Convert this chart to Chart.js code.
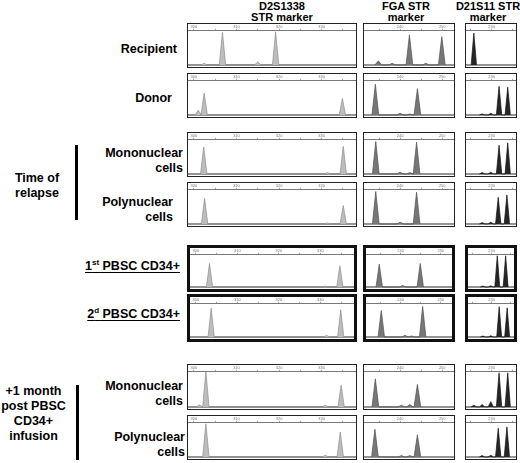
<!DOCTYPE html>
<html>
<head>
<meta charset="utf-8">
<script src="https://cdn.jsdelivr.net/npm/chart.js@4.4.1/dist/chart.umd.min.js"></script>
<style>
  body { margin: 0; background: #fff; }
  #fig { position: relative; width: 520px; height: 463px; overflow: hidden;
         font-family: "Liberation Sans", Arial, Helvetica, sans-serif; font-weight: bold; color: #000; }
  .t { position: absolute; white-space: nowrap; font-size: 12.5px; line-height: 15px; }
  .r { text-align: right; }
  .c { text-align: center; }
  .h { position: absolute; white-space: nowrap; font-size: 11px; line-height: 11px; text-align: center; }
  .bar { position: absolute; width: 2.5px; background: #000; }
  .panel { position: absolute; box-sizing: border-box; border: 1.4px solid #222; background: #fff; }
  .panel.thick { border-width: 3px; border-color: #111; }
  .panel div { position: relative; width: 100%; height: 100%; }
  u { text-decoration-thickness: 1.3px; text-underline-offset: 2px; }
  sup { font-size: 8px; line-height: 0; }
</style>
</head>
<body>
<div id="fig">
  <div class="h" style="left:232px;top:1px;width:100px;">D2S1338<br>STR marker</div>
  <div class="h" style="left:366px;top:1px;width:80px;">FGA STR<br>marker</div>
  <div class="h" style="left:448px;top:1px;width:80px;">D21S11 STR<br>marker</div>

  <div class="t r" style="right:343px;top:42px;">Recipient</div>
  <div class="t r" style="right:348px;top:91px;">Donor</div>

  <div class="t c" style="left:0px;top:171px;width:74px;">Time of<br>relapse</div>
  <div class="bar" style="left:75px;top:145px;height:75px;"></div>
  <div class="t r" style="right:337px;top:146px;">Mononuclear<br>cells</div>
  <div class="t r" style="right:347px;top:195px;">Polynuclear<br>cells</div>

  <div class="t r" style="right:340px;top:259px;"><u>1<sup>st</sup> PBSC CD34+</u></div>
  <div class="t r" style="right:340px;top:307px;"><u>2<sup>d</sup> PBSC CD34+</u></div>

  <div class="t c" style="left:0px;top:384px;width:67px;">+1 month<br>post PBSC<br>CD34+<br>infusion</div>
  <div class="bar" style="left:76px;top:385px;height:75px;"></div>
  <div class="t r" style="right:337px;top:379px;">Mononuclear<br>cells</div>
  <div class="t r" style="right:335px;top:430px;">Polynuclear<br>cells</div>
</div>

<script>
// rows: recipient, donor, relapse mono, relapse poly, 1st PBSC, 2nd PBSC, +1m mono, +1m poly
var rowTops    = [23, 73, 132, 182, 245, 294, 364, 415];
var rowBottoms = [68, 118, 177, 227, 292, 342, 410, 460];
var thickRows  = [4, 5];

// x axis in base pairs, tick labels shown on top strip
var d2Range  = [298.6, 338.1];
var fgaRange = [231.4, 252.8];
var d21Range = [223.8, 235.9];
var d2Ticks  = [300, 310, 320, 330];
var fgaTicks = [240, 250];
var d21Ticks = [230];

// peaks: [size (bp), height (% of panel)]
var d2Peaks = [
    [[302.4, 5], [306.7, 95], [315.0, 9], [319.2, 97]],
    [[301.0, 14], [302.4, 64], [334.9, 48]],
    [[302.3, 79], [331.4, 4], [335.1, 81]],
    [[302.5, 75], [331.4, 3], [335.1, 54]],
    [[303.3, 73], [331.1, 3], [334.7, 66]],
    [[303.7, 87], [331.5, 5], [334.9, 82]],
    [[301.3, 6], [302.8, 100], [330.9, 5], [334.6, 62]],
    [[302.8, 97], [330.9, 5], [334.4, 73]]
];
var fgaPeaks = [
    [[234.8, 12], [238.1, 5], [242.2, 88], [246.1, 5], [249.9, 83]],
    [[234.1, 90], [240.0, 5], [242.3, 3], [244.1, 77]],
    [[234.2, 95], [240.0, 5], [242.3, 4], [243.9, 93]],
    [[234.2, 95], [240.0, 5], [243.9, 93]],
    [[234.7, 71], [240.5, 5], [244.9, 73]],
    [[235.2, 80], [241.1, 5], [242.7, 3], [245.5, 92]],
    [[234.1, 80], [240.3, 5], [242.3, 7], [244.1, 64]],
    [[234.0, 81], [240.3, 4], [242.3, 4], [244.1, 65]]
];
var d21Peaks = [
    [[225.7, 93]],
    [[227.7, 3], [229.8, 5], [231.8, 84], [233.9, 81]],
    [[227.7, 4], [229.8, 5], [231.8, 84], [233.9, 91]],
    [[227.7, 4], [229.8, 5], [231.6, 78], [233.7, 85]],
    [[227.7, 3], [229.8, 4], [231.5, 97], [233.7, 97]],
    [[227.7, 3], [229.8, 4], [232.0, 91], [234.1, 88]],
    [[225.7, 5], [227.7, 7], [229.8, 15], [231.8, 97], [233.9, 97]],
    [[227.7, 4], [229.8, 5], [231.6, 84], [233.7, 88]]
];

var columns = [
    { left: 187, right: 357, range: d2Range,  ticks: d2Ticks,  peaks: d2Peaks,  half: 0.75, fill: '#bdbdbd', line: '#8e8e8e' },
    { left: 363, right: 455, range: fgaRange, ticks: fgaTicks, peaks: fgaPeaks, half: 0.8,  fill: '#777777', line: '#505050' },
    { left: 465, right: 517, range: d21Range, ticks: d21Ticks, peaks: d21Peaks, half: 0.65, fill: '#262626', line: '#111111' }
];

// each peak becomes a small triangle on the trace
function tracePoints(peaks, half) {
    var pts = [];
    peaks.forEach(function (p) {
        pts.push({ x: p[0] - half, y: 0 });
        pts.push({ x: p[0], y: p[1] });
        pts.push({ x: p[0] + half, y: 0 });
    });
    return pts;
}

var fig = document.getElementById('fig');

rowTops.forEach(function (top, r) {
    columns.forEach(function (col) {
        var panel = document.createElement('div');
        panel.className = 'panel' + (thickRows.indexOf(r) >= 0 ? ' thick' : '');
        panel.style.left = col.left + 'px';
        panel.style.top = top + 'px';
        panel.style.width = (col.right - col.left) + 'px';
        panel.style.height = (rowBottoms[r] - top) + 'px';
        var inner = document.createElement('div');
        var canvas = document.createElement('canvas');
        inner.appendChild(canvas);
        panel.appendChild(inner);
        fig.appendChild(panel);

        new Chart(canvas.getContext('2d'), {
            type: 'line',
            data: {
                datasets: [
                    {
                        data: tracePoints(col.peaks[r], col.half),
                        fill: 'origin',
                        backgroundColor: col.fill,
                        borderColor: col.line,
                        borderWidth: 0.7,
                        pointRadius: 0,
                        tension: 0
                    },
                    {
                        data: [{ x: col.range[0], y: 0 }, { x: col.range[1], y: 0 }],
                        borderColor: '#2a2a2a',
                        borderWidth: 1.1,
                        pointRadius: 0,
                        fill: false
                    }
                ]
            },
            options: {
                animation: false,
                responsive: true,
                maintainAspectRatio: false,
                events: [],
                layout: { padding: { top: 0, bottom: 1, left: 0, right: 0 } },
                plugins: { legend: { display: false }, tooltip: { enabled: false } },
                scales: {
                    x: {
                        type: 'linear',
                        position: 'top',
                        min: col.range[0],
                        max: col.range[1],
                        ticks: {
                            stepSize: 5,
                            includeBounds: false,
                            autoSkip: false,
                            maxRotation: 0,
                            padding: 0,
                            color: '#777',
                            font: { size: 4, family: 'Liberation Sans' },
                            callback: function (v) { return col.ticks.indexOf(v) >= 0 ? String(v) : ''; }
                        },
                        grid: { drawOnChartArea: false, tickLength: 2, color: '#666', lineWidth: 0.6 },
                        border: { display: true, color: '#555', width: 0.8 }
                    },
                    y: { display: false, min: -3, max: 100 }
                }
            }
        });
    });
});
</script>
</body>
</html>
